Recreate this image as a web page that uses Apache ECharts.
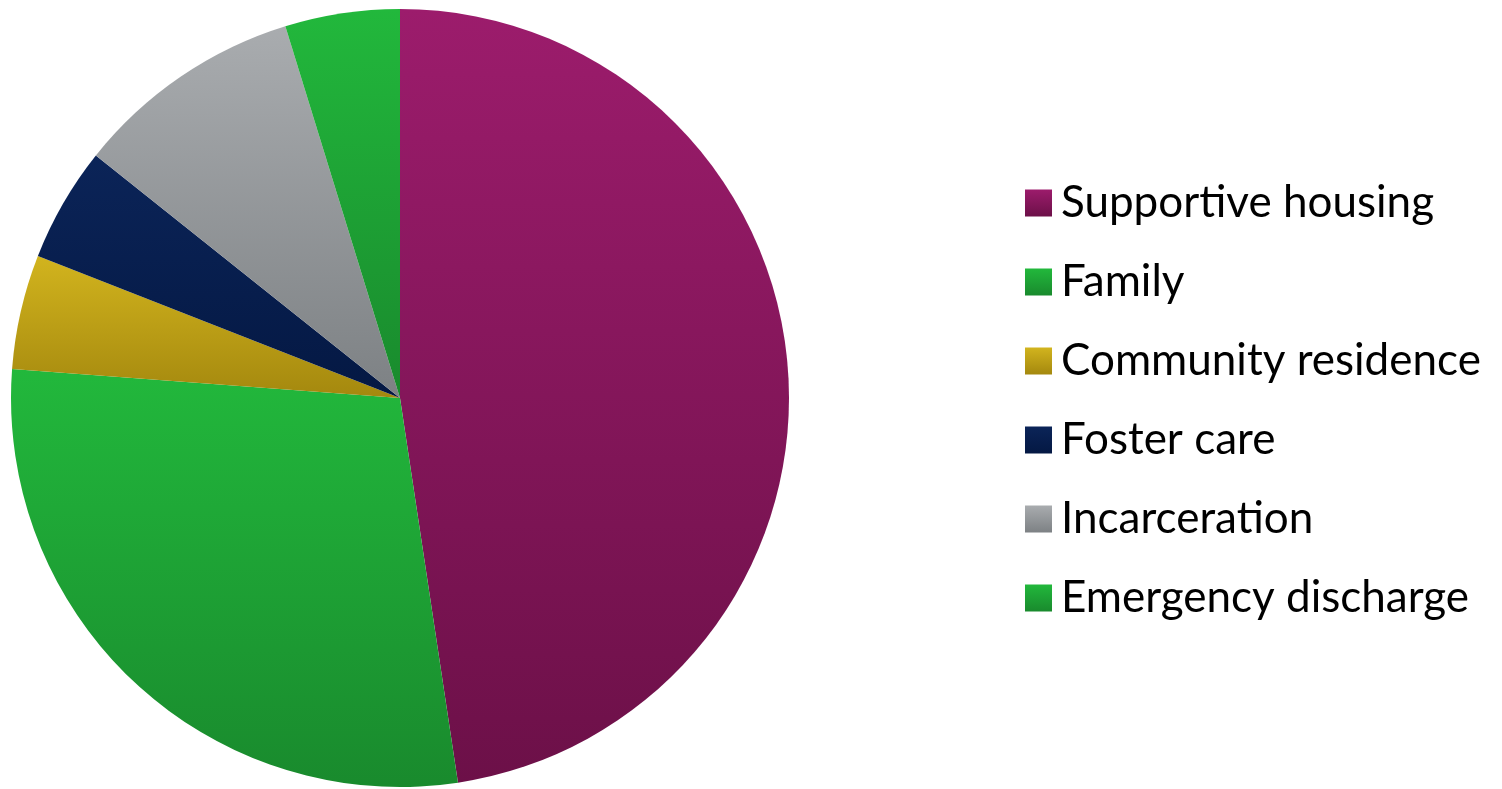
<!DOCTYPE html>
<html>
<head>
<meta charset="utf-8">
<script src="https://cdn.jsdelivr.net/npm/echarts@6/dist/echarts.min.js"></script>
<style>
html, body { margin: 0; padding: 0; background: #fff; }
#chart { width: 1502px; height: 789px; }
</style>
</head>
<body>
<div id="chart"></div>
<script>
var categories = ['Supportive housing', 'Family', 'Community residence', 'Foster care', 'Incarceration', 'Emergency discharge'];
var values = [10, 6, 1, 1, 2, 1];
// top / bottom colours of each slice gradient
var topColors = ['#9c1c6c', '#22b83c', '#d2b41e', '#0b2458', '#a9acaf', '#22b83c'];
var bottomColors = ['#6c1048', '#198a2d', '#a4880e', '#041843', '#7d8184', '#198a2d'];

function grad(i) {
    return new echarts.graphic.LinearGradient(0, 0, 0, 1, [
        {offset: 0, color: topColors[i]},
        {offset: 1, color: bottomColors[i]}
    ]);
}

var data = [];
for (var i = 0; i < categories.length; i++) {
    data.push({name: categories[i], value: values[i], itemStyle: {color: grad(i)}});
}

var chart = echarts.init(document.getElementById('chart'));
chart.setOption({
    animation: false,
    legend: {
        orient: 'vertical',
        left: 1025,
        top: 181,
        padding: 0,
        icon: 'rect',
        itemWidth: 27,
        itemHeight: 27,
        itemGap: 35,
        textStyle: {
            fontFamily: 'Lato',
            fontSize: 44,
            color: '#000',
            lineHeight: 44,
            padding: [0, 0, 0, 4]
        },
        data: categories
    },
    series: [{
        type: 'pie',
        center: [400, 398],
        radius: [0, 389],
        startAngle: 90,
        clockwise: true,
        label: {show: false},
        labelLine: {show: false},
        emphasis: {disabled: true},
        data: data
    }]
});
</script>
</body>
</html>
